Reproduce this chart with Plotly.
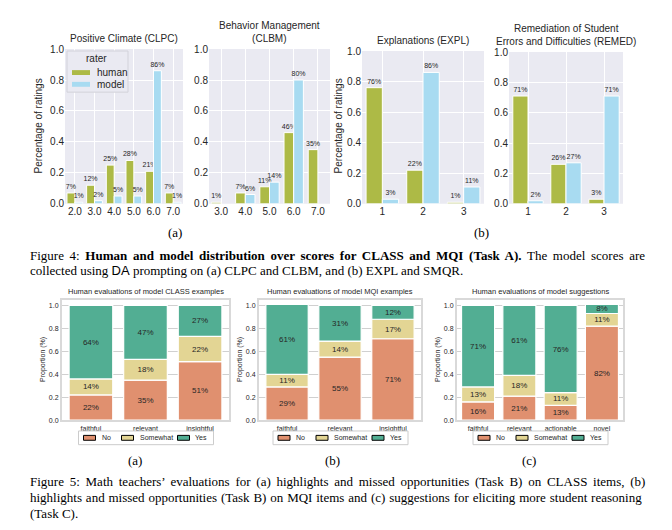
import plotly.graph_objects as go

W, H = 672, 530

# ---------------- data ----------------
clpc_scores = ["2.0", "3.0", "4.0", "5.0", "6.0", "7.0"]
clpc_human = [0.07, 0.12, 0.25, 0.28, 0.21, 0.07]
clpc_model = [0.01, 0.02, 0.05, 0.05, 0.86, 0.01]

clbm_scores = ["3.0", "4.0", "5.0", "6.0", "7.0"]
clbm_human = [0.01, 0.07, 0.11, 0.46, 0.35]
clbm_model = [None, 0.06, 0.14, 0.80, None]

expl_scores = ["1", "2", "3"]
expl_human = [0.76, 0.22, 0.01]
expl_model = [0.03, 0.86, 0.11]

remed_scores = ["1", "2", "3"]
remed_human = [0.71, 0.26, 0.03]
remed_model = [0.02, 0.27, 0.71]

class_items = ["faithful", "relevant", "insightful"]
class_no = [0.22, 0.35, 0.51]
class_somewhat = [0.14, 0.18, 0.22]
class_yes = [0.64, 0.47, 0.27]

mqi_items = ["faithful", "relevant", "insightful"]
mqi_no = [0.29, 0.55, 0.71]
mqi_somewhat = [0.11, 0.14, 0.17]
mqi_yes = [0.61, 0.31, 0.12]

sugg_items = ["faithful", "relevant", "actionable", "novel"]
sugg_no = [0.16, 0.21, 0.13, 0.82]
sugg_somewhat = [0.13, 0.18, 0.11, 0.11]
sugg_yes = [0.71, 0.61, 0.76, 0.08]

rater_names = ["human", "model"]
answer_names = ["No", "Somewhat", "Yes"]
y_ticks = [0.0, 0.2, 0.4, 0.6, 0.8, 1.0]

# ---------------- styles ----------------
HUMAN = "#ADBA46"
MODEL = "#A8DBF1"
C_NO = "#E0906F"
C_SW = "#E3D594"
C_YES = "#52AE93"
SANS = "Liberation Sans, Arial, sans-serif"
SERIF = "Liberation Serif, Times New Roman, serif"
TXT = "#262626"


def fx(px):
    return px / W


def fy(px):
    return 1 - px / H


def pct(vals):
    return ["" if v is None else f"{round(v * 100):d}%" for v in vals]


fig = go.Figure()
annotations = []
shapes = []


def rect(x0, y0, x1, y1, fill, line_color=None, line_width=0):
    shapes.append(dict(type="rect", xref="paper", yref="paper",
                       x0=fx(x0), x1=fx(x1), y0=fy(y1), y1=fy(y0),
                       fillcolor=fill,
                       line=dict(color=line_color or fill, width=line_width),
                       layer="above"))


def label(text, x, y, size, xanchor="left", color=TXT, family=SANS, angle=0):
    annotations.append(dict(text=text, x=fx(x), y=fy(y), xref="paper", yref="paper",
                            xanchor=xanchor, yanchor="middle", showarrow=False,
                            textangle=angle,
                            font=dict(size=size, color=color, family=family)))


# ---------------- top panels ----------------
top = [
    (1, 65, 183, 45, 203, "Positive Climate (CLPC)", clpc_scores, clpc_human, clpc_model),
    (2, 209, 330, 45, 203, "Behavior Management<br>(CLBM)", clbm_scores, clbm_human, clbm_model),
    (3, 362, 484, 47, 203, "Explanations (EXPL)", expl_scores, expl_human, expl_model),
    (4, 509, 623, 48, 203, "Remediation of Student<br>Errors and Difficulties (REMED)", remed_scores, remed_human, remed_model),
]

for idx, x0, x1, y0, y1, title, cats, hum, mod in top:
    xa = "x" if idx == 1 else f"x{idx}"
    ya = "y" if idx == 1 else f"y{idx}"
    for name, vals, col, off in ((rater_names[0], hum, HUMAN, -0.4), (rater_names[1], mod, MODEL, 0.0)):
        fig.add_trace(go.Bar(
            x=cats, y=vals, name=name, xaxis=xa, yaxis=ya,
            offset=off, width=0.4,
            marker=dict(color=col, line=dict(color="white", width=1)),
            text=pct(vals), texttemplate="%{text}", textposition="outside",
            textfont=dict(size=7, color=TXT, family=SANS),
            constraintext="none", cliponaxis=False, showlegend=False,
        ))
    lay_x = "xaxis" if idx == 1 else f"xaxis{idx}"
    lay_y = "yaxis" if idx == 1 else f"yaxis{idx}"
    fig.layout[lay_x] = dict(
        domain=[fx(x0), fx(x1)], anchor=ya, type="category",
        range=[-0.5, len(cats) - 0.5], showgrid=True, gridcolor="white",
        gridwidth=1, ticks="", showline=False, zeroline=False,
        tickfont=dict(size=10, color=TXT, family=SANS),
    )
    fig.layout[lay_y] = dict(
        domain=[fy(y1), fy(y0)], anchor=xa, range=[0, 1],
        tickvals=y_ticks, tickformat=".1f", showgrid=True, gridcolor="white",
        gridwidth=1, ticks="", showline=False, zeroline=False,
        tickfont=dict(size=10, color=TXT, family=SANS),
    )
    shapes.append(dict(type="rect", xref=f"{xa} domain", yref=f"{ya} domain",
                       x0=0, x1=1, y0=0, y1=1, fillcolor="#EAEAF2",
                       line=dict(width=0), layer="below"))
    annotations.append(dict(text=title, x=fx((x0 + x1) / 2), y=fy(y0 - 3),
                            xref="paper", yref="paper", xanchor="center",
                            yanchor="bottom", showarrow=False,
                            font=dict(size=10, color=TXT, family=SANS)))

for xp in (38, 338):
    label("Percentage of ratings", xp, 124, 10, xanchor="center", angle=-90)

# top legend (drawn box)
rect(67, 47, 128, 89, "#EAEAF2", "#D2D2DA", 1)
label("rater", 96, 55, 10, xanchor="center")
for i, (nm, col) in enumerate(zip(rater_names, (HUMAN, MODEL))):
    yc = 69 + i * 12
    rect(72, yc - 2.5, 90, yc + 2.5, col)
    label(nm, 95, yc, 10)

# ---------------- bottom panels ----------------
bottom = [
    (5, 62, 229, "Human evaluations of model CLASS examples", class_items, class_no, class_somewhat, class_yes, [-0.53, 2.53]),
    (6, 259, 421, "Human evaluations of model MQI examples", mqi_items, mqi_no, mqi_somewhat, mqi_yes, [-0.53, 2.53]),
    (7, 457, 623, "Human evaluations of model suggestions", sugg_items, sugg_no, sugg_somewhat, sugg_yes, [-0.51, 3.51]),
]
BY0, BY1 = 301, 424

for idx, x0, x1, title, cats, no, sw, yes, xr in bottom:
    xa, ya = f"x{idx}", f"y{idx}"
    base_sw = no
    base_yes = [a + b for a, b in zip(no, sw)]
    for vals, base, col in ((no, None, C_NO), (sw, base_sw, C_SW), (yes, base_yes, C_YES)):
        fig.add_trace(go.Bar(
            x=cats, y=vals, base=base, xaxis=xa, yaxis=ya, offset=-0.4, width=0.8,
            marker=dict(color=col, line=dict(color="white", width=1.2)),
            text=pct(vals), texttemplate="%{text}", textposition="inside",
            insidetextanchor="middle", constraintext="none",
            textfont=dict(size=8, color=TXT, family=SANS), showlegend=False,
        ))
    fig.layout[f"xaxis{idx}"] = dict(
        domain=[fx(x0), fx(x1)], anchor=ya, type="category", range=xr,
        showgrid=False, ticks="", showline=True, mirror=True,
        linecolor="#D9D9D9", linewidth=2, zeroline=False,
        tickfont=dict(size=7, color=TXT, family=SANS),
    )
    fig.layout[f"yaxis{idx}"] = dict(
        domain=[fy(BY1), fy(BY0)], anchor=xa, range=[0, 1.05],
        tickvals=y_ticks, tickformat=".1f", showgrid=True, gridcolor="#D0D0D0",
        gridwidth=1, ticks="", showline=True, mirror=True, linecolor="#D9D9D9",
        linewidth=2, zeroline=False,
        tickfont=dict(size=7, color=TXT, family=SANS),
    )
    annotations.append(dict(text=title, x=fx((x0 + x1) / 2), y=fy(BY0 - 2),
                            xref="paper", yref="paper", xanchor="center",
                            yanchor="bottom", showarrow=False,
                            font=dict(size=7.5, color=TXT, family=SANS)))
    label("Proportion (%)", x0 - 19, (BY0 + BY1) / 2, 7, xanchor="center", angle=-90)
    # legend (drawn box)
    c = (x0 + x1) / 2
    rect(c - 67, 435, c + 68, 449, "white", "#CCCCCC", 1)
    for nm, col, sx in zip(answer_names, (C_NO, C_SW, C_YES), (-62, -24, 32)):
        rect(c + sx, 439.5, c + sx + 12, 444.5, col, "black", 1)
        label(nm, c + sx + 16, 442, 7)

# ---------------- subfigure labels and captions ----------------
for txt, xp, yp in (("(a)", 175, 232), ("(b)", 481, 232),
                    ("(a)", 135, 465), ("(b)", 332, 465), ("(c)", 529, 465)):
    label(txt, xp, yp, 13, xanchor="center", color="black", family=SERIF)


def seg(text, ws, bold=False, family=None):
    style = f"word-spacing:{ws}px"
    if bold:
        style += ";font-weight:bold"
    if family:
        style += f";font-family:{family}"
    return f"<span style=\"{style}\">{text}</span>"


cap_lines = [
    (seg("Figure 4: ", 2.4) + seg("Human and model distribution over scores for CLASS and MQI (Task A).", 2.4, bold=True)
     + seg(" The model scores are", 2.4), 256),
    ("collected using " + seg("DA", 0, family="Liberation Sans") + " prompting on (a) CLPC and CLBM, and (b) EXPL and SMQR.", 271),
    (seg("Figure 5: Math teachers’ evaluations for (a) highlights and missed opportunities (Task B) on CLASS items, (b)", 2.5), 487),
    (seg("highlights and missed opportunities (Task B) on MQI items and (c) suggestions for eliciting more student reasoning", 0.6), 503),
    ("(Task C).", 519),
]
for txt, yp in cap_lines:
    label(txt, 28, yp, 13, color="black", family=SERIF)

fig.update_layout(
    width=W, height=H, margin=dict(l=0, r=0, t=0, b=0),
    paper_bgcolor="white", plot_bgcolor="white", showlegend=False,
    barmode="overlay", annotations=annotations, shapes=shapes,
    font=dict(family=SANS, color=TXT),
)

fig.write_html("out.html", config={"displayModeBar": False},
               post_script="document.body.style.margin='0';document.body.style.overflow='hidden';")
